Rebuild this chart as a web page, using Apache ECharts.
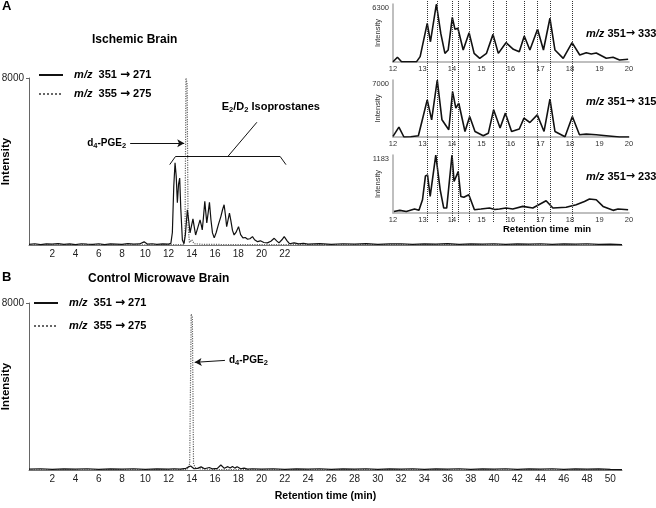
<!DOCTYPE html>
<html><head><meta charset="utf-8">
<script src="https://cdn.jsdelivr.net/npm/echarts@6/dist/echarts.min.js"></script>
<style>html,body{margin:0;padding:0;background:#fff}#c{width:656px;height:508px}</style>
</head><body><div id="c"></div>
<script>
// ---------- DATA ----------
const seriesNames = ['m/z 351 → 271', 'm/z 355 → 275'];
// Panel A (Ischemic Brain) – [retention time (min), intensity]
const ischemic351 = [[0,30],[0.5,60],[1,20],[1.5,50],[2,40],[2.5,70],[3,30],[3.5,50],[4,20],[4.5,60],[5,40],[5.5,30],[6,60],[6.5,20],[7,50],[7.5,40],[8,30],[8.5,70],[9,40],[9.5,50],[9.9,150],[10.2,40],[10.6,60],[11,30],[11.5,50],[12,40],[12.2,80],[12.33,600],[12.45,2800],[12.56,3940],[12.66,3300],[12.76,2020],[12.86,2900],[12.96,3210],[13.05,1800],[13.19,240],[13.33,60],[13.45,500],[13.62,1690],[13.75,1100],[13.85,580],[13.97,900],[14.1,1250],[14.2,900],[14.33,480],[14.5,800],[14.71,1200],[14.82,950],[14.9,720],[15.0,1300],[15.12,2090],[15.2,1600],[15.29,1060],[15.4,1500],[15.52,2040],[15.65,1200],[15.78,580],[15.93,340],[16.1,600],[16.3,1000],[16.5,1360],[16.65,1700],[16.78,1930],[16.9,1400],[17.0,880],[17.12,1200],[17.24,1530],[17.35,1200],[17.5,700],[17.64,480],[17.8,600],[18.02,880],[18.2,500],[18.4,340],[18.6,360],[18.8,280],[19.0,300],[19.22,400],[19.4,250],[19.66,160],[19.9,200],[20.2,120],[20.5,100],[20.8,180],[21.09,320],[21.3,200],[21.5,100],[21.75,250],[21.95,400],[22.2,200],[22.4,60],[22.8,100],[23.2,50],[23.6,80],[24,40],[25,70],[26,30],[27,60],[28,40],[29,70],[30,30],[31,50],[32,60],[33,30],[34,50],[35,40],[36,70],[37,30],[38,50],[39,40],[40,60],[41,30],[42,50],[43,40],[44,60],[45,30],[46,50],[47,40],[48,60],[49,30],[50,40],[51,20]];
const ischemic355 = [[0,10],[5,15],[10,10],[13.3,20],[13.42,500],[13.5,8000],[13.6,7700],[13.68,900],[13.8,120],[14.0,250],[14.2,60],[15,30],[18,20],[22,20],[30,15],[40,15],[51,10]];
// Panel B (Control Microwave Brain)
const control351 = [[0,40],[1,60],[2,30],[3,50],[4,40],[5,60],[6,30],[7,50],[8,40],[9,60],[10,30],[11,50],[12,40],[12.5,60],[13,40],[13.5,80],[13.9,190],[14.2,60],[14.5,80],[14.8,150],[15.1,60],[15.5,120],[15.8,50],[16.2,80],[16.5,240],[16.8,80],[17.1,160],[17.3,100],[17.5,170],[17.7,90],[17.9,160],[18.2,60],[18.5,90],[18.8,40],[19.2,60],[20,40],[21,60],[22,30],[23,50],[24,40],[25,60],[26,30],[27,50],[28,40],[29,60],[30,30],[31,50],[32,40],[33,60],[34,30],[35,50],[36,40],[37,60],[38,30],[39,50],[40,40],[41,60],[42,30],[43,50],[44,40],[45,60],[46,30],[47,50],[48,40],[49,50],[50,30],[51,20]];
const control355 = [[0,10],[10,15],[13.6,20],[13.82,300],[13.95,7470],[14.05,7300],[14.15,280],[14.3,120],[14.6,60],[16,20],[25,15],[51,10]];
// Inset chromatograms (12–20 min)
const inset333 = [[12.0,30],[12.15,510],[12.29,30],[12.5,20],[12.8,40],[12.92,580],[13.16,4200],[13.27,2200],[13.47,6300],[13.62,3100],[13.76,940],[13.87,1300],[14.01,4850],[14.1,3550],[14.2,3660],[14.38,1300],[14.58,3180],[14.75,940],[14.94,400],[15.17,940],[15.39,3000],[15.57,940],[15.83,2100],[16.08,1380],[16.28,1120],[16.45,2820],[16.64,1300],[16.9,3550],[17.1,1300],[17.32,4750],[17.49,1300],[17.77,400],[18.07,2100],[18.33,760],[18.55,1010],[18.72,870],[18.89,980],[19.23,400],[19.46,510],[19.68,220],[19.97,300]];
const inset315 = [[12.0,70],[12.2,1220],[12.37,0],[12.6,30],[12.86,160],[12.98,1900],[13.16,4560],[13.31,2110],[13.5,7000],[13.66,2110],[13.89,890],[14.02,5570],[14.13,3540],[14.23,4150],[14.44,680],[14.6,2520],[14.78,680],[15.06,160],[15.23,450],[15.41,3340],[15.63,1100],[15.81,2930],[16.02,680],[16.28,980],[16.44,2320],[16.64,1780],[16.89,2720],[17.12,680],[17.32,4640],[17.49,680],[17.83,40],[18.08,2520],[18.32,270],[18.55,350],[18.89,270],[19.23,160],[19.68,0],[20,0]];
const inset233 = [[12.03,32],[12.23,54],[12.45,30],[12.73,81],[12.88,54],[13.0,270],[13.1,757],[13.17,777],[13.26,337],[13.45,1183],[13.6,473],[13.72,101],[13.82,101],[14.0,1183],[14.07,642],[14.21,845],[14.3,337],[14.4,320],[14.57,371],[14.76,67],[14.98,81],[15.27,101],[15.45,70],[15.61,81],[15.83,101],[16.06,81],[16.4,135],[16.74,101],[17.19,250],[17.42,101],[17.87,118],[18.21,169],[18.49,236],[18.66,284],[18.89,270],[19.12,135],[19.46,54],[19.63,81],[19.97,67]];
const insetMax = [6300, 7000, 1183];
const insetLabels = ['351', '333', '351', '315', '351', '233'];
const peakTimes = [13.16,13.5,14.01,14.21,14.58,15.39,15.83,16.45,16.9,17.32,18.07];
const mainTicksA = [2,22];   // labelled tick range, panel A
const mainTicksB = [2,50];   // labelled tick range, panel B

// ---------- CHART ----------
const FF = '"Liberation Sans", Arial, sans-serif';
const chart = echarts.init(document.getElementById('c'), null, {renderer:'canvas'});
const sub = {fontSize:7.5, fontWeight:'bold', fontFamily:FF, color:'#000', verticalAlign:'bottom', lineHeight:8};
const nrm = (fs)=>({fontSize:fs, fontWeight:'bold', fontFamily:FF, color:'#000', lineHeight:14});
const itl = (fs)=>({fontSize:fs, fontWeight:'bold', fontStyle:'italic', fontFamily:FF, color:'#000'});
const arr = (fs)=>({fontSize:fs, fontFamily:'"DejaVu Sans", sans-serif', color:'#000'});

function mainX(idx, range, name){
  return {gridIndex:idx, type:'value', min:0, max:51, interval:2,
    axisLine:{lineStyle:{color:'#777', width:1}}, axisTick:{show:false}, splitLine:{show:false},
    axisLabel:{fontSize:10, fontFamily:FF, color:'#222', margin:4, showMaxLabel:false,
      formatter:v=> (v>=range[0] && v<=range[1] && v%2===0) ? String(v) : ''},
    name:name||'', nameLocation:'middle', nameGap:21, nameMoveOverlap:false,
    nameTextStyle:{fontSize:10.5, fontWeight:'bold', fontFamily:FF, color:'#000'}};
}
function mainY(idx){
  return {gridIndex:idx, type:'value', min:0, max:8000, interval:8000,
    axisLine:{show:true, lineStyle:{color:'#666', width:1}},
    axisTick:{show:true, length:3, lineStyle:{color:'#666'}, customValues:[8000]},
    splitLine:{show:false},
    axisLabel:{fontSize:10, fontFamily:FF, color:'#222', margin:5, customValues:[8000], formatter:v=>String(v)},
    name:'Intensity', nameLocation:'middle', nameGap:17, nameRotate:90, nameMoveOverlap:false,
    nameTextStyle:{fontSize:11.5, fontWeight:'bold', fontFamily:FF, color:'#000'}};
}
function insetX(idx){
  return {gridIndex:idx, type:'value', min:12, max:20, interval:1,
    axisLine:{lineStyle:{color:'#aaa', width:1.5}}, axisTick:{show:false}, splitLine:{show:false},
    axisLabel:{fontSize:7.5, fontFamily:FF, color:'#333', margin:3}};
}
function insetY(idx, mx){
  return {gridIndex:idx, type:'value', min:0, max:mx, interval:mx,
    axisLine:{show:true, lineStyle:{color:'#aaa', width:1.5}}, axisTick:{show:false}, splitLine:{show:false},
    axisLabel:{fontSize:7.5, fontFamily:FF, color:'#333', margin:4, verticalAlign:'top', customValues:[mx], formatter:v=>String(v)},
    name:'Intensity', nameLocation:'middle', nameGap:11, nameRotate:90, nameMoveOverlap:false,
    nameTextStyle:{fontSize:7.5, fontFamily:FF, color:'#333'}};
}

const solidStyle = {color:'#111', width:1.2, type:'solid'};
const dotStyle = {color:'#666', width:1.2, type:'dotted'};
const annLine = {color:'#111', width:1, type:'solid'};

function legendFor(top, left, gap){
  return {orient:'vertical', left:left, top:top, itemWidth:24, itemHeight:14, itemGap:gap, padding:0,
    data:seriesNames, selectedMode:false,
    itemStyle:{opacity:0}, lineStyle:{width:2},
    formatter: n => '  {i|m/z}  ' + n.slice(4, 7) + ' {a|→} ' + n.slice(-3),
    textStyle:{fontSize:11, fontWeight:'bold', fontFamily:FF, color:'#000', rich:{i:itl(11), a:arr(12)}}};
}
function insetTitle(k, top){
  return {text:'{i|m/z} ' + insetLabels[2*k] + '{a|→} ' + insetLabels[2*k+1], left:586, top:top, padding:0,
    textStyle:{fontSize:11, fontWeight:'bold', fontFamily:FF, color:'#000', rich:{i:itl(11), a:arr(11)}}};
}
const G = (o)=>Object.assign({outerBoundsMode:'none', containLabel:false}, o);

const option = {
  animation:false,
  backgroundColor:'#fff',
  title:[
    {text:'A', left:2, top:0, padding:0, textStyle:{fontSize:13, fontWeight:'bold', fontFamily:FF, color:'#000'}},
    {text:'Ischemic Brain', left:92, top:34, padding:0, textStyle:{fontSize:12, fontWeight:'bold', fontFamily:FF, color:'#000'}},
    {text:'B', left:2, top:271, padding:0, textStyle:{fontSize:13, fontWeight:'bold', fontFamily:FF, color:'#000'}},
    {text:'Control Microwave Brain', left:88, top:273, padding:0, textStyle:{fontSize:12, fontWeight:'bold', fontFamily:FF, color:'#000'}},
    insetTitle(0, 28), insetTitle(1, 96), insetTitle(2, 171),
    {text:'Retention time  min', left:503, top:224, padding:0, textStyle:{fontSize:9.5, fontWeight:'bold', fontFamily:FF, color:'#000'}}
  ],
  legend:[legendFor(69, 38, 7), legendFor(297, 33, 11)],
  grid:[
    G({left:29, top:78, width:593, height:167}),
    G({left:29, top:303, width:593, height:167}),
    G({left:393, top:4, width:236, height:58}),
    G({left:393, top:80, width:236, height:57}),
    G({left:393, top:155, width:236, height:58}),
    G({left:393, top:0, width:236, height:222})
  ],
  xAxis:[mainX(0, mainTicksA), mainX(1, mainTicksB, 'Retention time (min)'), insetX(2), insetX(3), insetX(4),
    {gridIndex:5, type:'value', min:12, max:20, show:false}],
  yAxis:[mainY(0), mainY(1), insetY(2, insetMax[0]), insetY(3, insetMax[1]), insetY(4, insetMax[2]),
    {gridIndex:5, type:'value', min:0, max:1, show:false}],
  series:[
    {name:seriesNames[1], type:'line', xAxisIndex:0, yAxisIndex:0, data:ischemic355, symbol:'none', lineStyle:dotStyle, itemStyle:{color:'#666'}, z:2},
    {name:seriesNames[0], type:'line', xAxisIndex:0, yAxisIndex:0, data:ischemic351, symbol:'none', lineStyle:solidStyle, itemStyle:{color:'#111'}, z:3,
      markLine:{silent:true, symbol:['none','none'], lineStyle:annLine, label:{show:false},
        data:[
          [{coord:[8.7,4870], symbol:'none', label:{show:true, position:'start', distance:4, formatter:'{n|d}{s|4}{n|-PGE}{s|2}', rich:{n:nrm(10), s:sub}}},
           {coord:[13.35,4870], symbol:'arrow', symbolSize:[6,7]}],
          [{coord:[12.1,3850], lineStyle:{curveness:0.35}}, {coord:[12.6,4240]}],
          [{coord:[12.6,4240]}, {coord:[21.6,4240]}],
          [{coord:[21.6,4240], lineStyle:{curveness:0.35}}, {coord:[22.1,3850]}],
          [{coord:[17.1,4240]}, {coord:[19.6,5880]}]
        ]},
      markPoint:{silent:true, symbol:'circle', symbolSize:0,
        data:[{coord:[20.8,6600], label:{show:true, position:'inside', formatter:'{n|E}{s|2}{n|/D}{s|2}{n| Isoprostanes}', rich:{n:nrm(11), s:sub}}}]}
    },
    {name:seriesNames[1], type:'line', xAxisIndex:1, yAxisIndex:1, data:control355, symbol:'none', lineStyle:dotStyle, itemStyle:{color:'#666'}, z:2,
      markLine:{silent:true, symbol:['none','none'], lineStyle:annLine, label:{show:false},
        data:[
          [{coord:[16.85,5250], symbol:'none', label:{show:true, position:'start', distance:4, formatter:'{n|d}{s|4}{n|-PGE}{s|2}', rich:{n:nrm(10), s:sub}}},
           {coord:[14.25,5157], symbol:'arrow', symbolSize:[6,7]}]
        ]}},
    {name:seriesNames[0], type:'line', xAxisIndex:1, yAxisIndex:1, data:control351, symbol:'none', lineStyle:solidStyle, itemStyle:{color:'#111'}, z:3},
    {type:'line', xAxisIndex:2, yAxisIndex:2, data:inset333, symbol:'none', lineStyle:{color:'#111', width:1.6}, z:3},
    {type:'line', xAxisIndex:3, yAxisIndex:3, data:inset315, symbol:'none', lineStyle:{color:'#111', width:1.6}, z:3},
    {type:'line', xAxisIndex:4, yAxisIndex:4, data:inset233, symbol:'none', lineStyle:{color:'#111', width:1.6}, z:3},
    {type:'line', xAxisIndex:5, yAxisIndex:5, data:[[12,0]], symbol:'none', lineStyle:{opacity:0}, z:1,
      markLine:{silent:true, symbol:['none','none'], label:{show:false},
        lineStyle:{color:'#333', width:1, type:'dotted'},
        data:peakTimes.map(t=>({xAxis:t}))}}
  ]
};
chart.setOption(option);
</script></body></html>
